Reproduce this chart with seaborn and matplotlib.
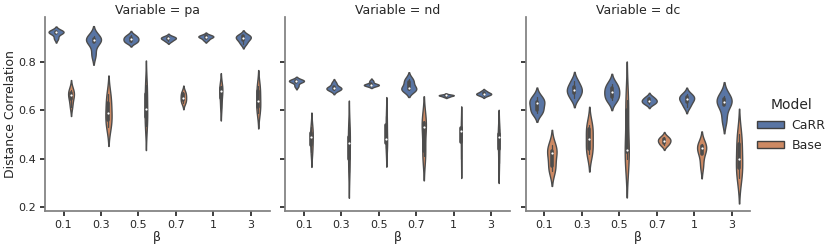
import pandas as pd
import numpy as np
import matplotlib
matplotlib.use("Agg")
import matplotlib.pyplot as plt
from matplotlib.patches import Patch
import seaborn as sns

# values, five runs per group
betas = ["0.1", "0.3", "0.5", "0.7", "1", "3"]
variables = ["pa", "nd", "dc"]
models = ["CaRR", "Base"]

pa_carr = [[0.928, 0.925, 0.922, 0.918, 0.897],
           [0.905, 0.895, 0.888, 0.882, 0.83],
           [0.91, 0.90, 0.895, 0.885, 0.88],
           [0.905, 0.90, 0.897, 0.893, 0.885],
           [0.91, 0.906, 0.903, 0.90, 0.89],
           [0.91, 0.905, 0.898, 0.89, 0.875]]
pa_base = [[0.685, 0.672, 0.663, 0.645, 0.615],
           [0.665, 0.63, 0.588, 0.56, 0.53],
           [0.535, 0.57, 0.606, 0.665, 0.705],
           [0.675, 0.665, 0.652, 0.64, 0.63],
           [0.61, 0.65, 0.68, 0.69, 0.70],
           [0.59, 0.615, 0.639, 0.68, 0.70]]
nd_carr = [[0.724, 0.722, 0.720, 0.718, 0.70],
           [0.712, 0.695, 0.691, 0.688, 0.682],
           [0.72, 0.706, 0.705, 0.703, 0.702],
           [0.728, 0.715, 0.691, 0.686, 0.683],
           [0.664, 0.662, 0.661, 0.659, 0.655],
           [0.678, 0.67, 0.668, 0.665, 0.66]]
nd_base = [[0.425, 0.455, 0.487, 0.505, 0.53],
           [0.345, 0.40, 0.464, 0.49, 0.532],
           [0.445, 0.465, 0.48, 0.54, 0.575],
           [0.41, 0.43, 0.532, 0.545, 0.557],
           [0.40, 0.47, 0.515, 0.525, 0.535],
           [0.38, 0.44, 0.487, 0.50, 0.52]]
dc_carr = [[0.655, 0.635, 0.629, 0.60, 0.59],
           [0.72, 0.695, 0.684, 0.67, 0.65],
           [0.71, 0.69, 0.675, 0.655, 0.64],
           [0.655, 0.645, 0.639, 0.633, 0.625],
           [0.665, 0.655, 0.646, 0.635, 0.615],
           [0.66, 0.645, 0.632, 0.62, 0.56]]
dc_base = [[0.35, 0.37, 0.422, 0.43, 0.455],
           [0.54, 0.52, 0.48, 0.44, 0.42],
           [0.40, 0.425, 0.436, 0.60, 0.64],
           [0.49, 0.48, 0.474, 0.465, 0.455],
           [0.46, 0.45, 0.443, 0.42, 0.37],
           [0.32, 0.36, 0.397, 0.46, 0.50]]

groups = {("pa", "CaRR"): pa_carr, ("pa", "Base"): pa_base,
          ("nd", "CaRR"): nd_carr, ("nd", "Base"): nd_base,
          ("dc", "CaRR"): dc_carr, ("dc", "Base"): dc_base}

rows = []
for var in variables:
    for model in models:
        for beta, vals in zip(betas, groups[(var, model)]):
            for v in vals:
                rows.append({"Variable": var, "Model": model, "β": beta,
                             "Distance Correlation": v})
df = pd.DataFrame(rows)

sns.set_theme(style="ticks", rc={"font.size": 9, "axes.labelsize": 9,
                                 "axes.titlesize": 9, "xtick.labelsize": 8,
                                 "ytick.labelsize": 8, "legend.fontsize": 9,
                                 "legend.title_fontsize": 10,
                                 "axes.edgecolor": ".5", "xtick.color": ".15",
                                 "ytick.color": ".15",
                                 "xtick.major.size": 3.5, "ytick.major.size": 3.5,
                                 "xtick.major.pad": 3, "ytick.major.pad": 3})
pal = sns.color_palette("deep", 2)
box_kws = dict(box_width=2.6, whis_width=0.9, marker="o",
               markersize=1.6, markeredgewidth=0)

fig, axes = plt.subplots(1, 3, figsize=(8.3, 2.5), sharey=True)
fig.subplots_adjust(left=0.054, right=0.904, bottom=0.156, top=0.932, wspace=0.07)

for ax, var in zip(axes, variables):
    sub = df[df["Variable"] == var]
    # scale the two violins of each beta against each other (old scale_hue)
    for beta in betas:
        sns.violinplot(data=sub[sub["β"] == beta], x="β", y="Distance Correlation",
                       hue="Model", order=betas, hue_order=models, palette=pal,
                       inner="box", density_norm="area", common_norm=True,
                       linewidth=1, inner_kws=box_kws, legend=False, ax=ax)
    ax.set_xlim(-0.5, 5.5)
    ax.set_title(f"Variable = {var}", pad=2)
    ax.set_xlabel("β", labelpad=1)
    if ax is not axes[0]:
        ax.set_ylabel("")
    else:
        ax.set_ylabel("Distance Correlation", labelpad=1)

axes[0].set_ylim(0.183, 0.985)
axes[0].set_yticks([0.2, 0.4, 0.6, 0.8])
sns.despine(fig)

handles = [Patch(facecolor=sns.desaturate(c, 0.75), edgecolor=".25", linewidth=1,
                 label=m) for c, m in zip(pal, models)]
fig.legend(handles=handles, title="Model", loc="center left",
           bbox_to_anchor=(0.898, 0.5), frameon=False, handlelength=2.2,
           handleheight=0.55, handletextpad=0.6, labelspacing=0.55)

fig.savefig("out.png", dpi=100)
